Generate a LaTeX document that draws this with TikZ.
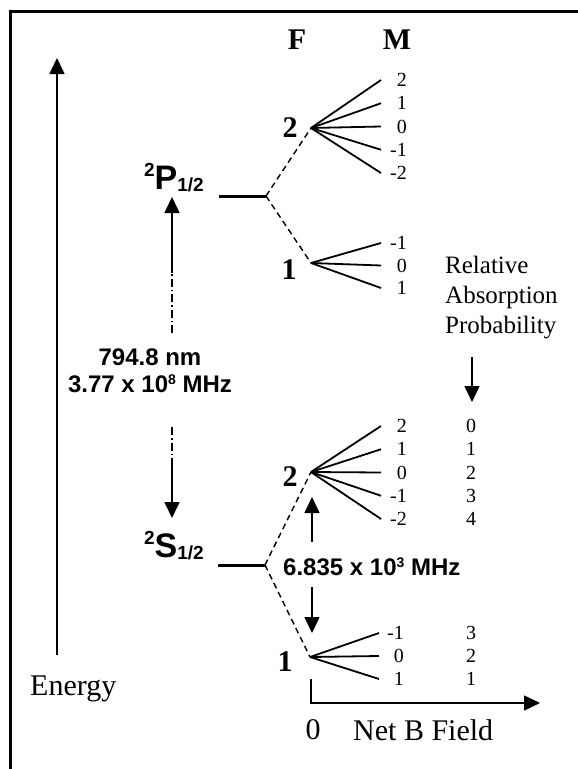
\documentclass[tikz,border=0pt]{standalone}
\usepackage{fontspec}
\setmainfont{Liberation Serif}
\newfontfamily\arialfont{Liberation Sans}
\usetikzlibrary{arrows.meta}

% term symbol with leading superscript 2 and subscript 1/2
\newcommand{\termsym}[1]{\raisebox{13pt}{\fontsize{19}{19}\selectfont 2}#1\raisebox{-2pt}{\fontsize{19}{19}\selectfont 1/2}}

\begin{document}
\begin{tikzpicture}[x=1pt, y=-1pt,
    level/.style={line width=3pt},
    split/.style={line width=1.4pt, dash pattern=on 6pt off 4pt},
    dashdot/.style={line width=1.3pt, dash pattern=on 8pt off 3pt on 1.5pt off 3pt},
    fan/.style={line width=1.8pt},
    arr/.style={line width=1.6pt, -{Triangle[width=15pt,length=16pt]}},
    mnum/.style={anchor=east, inner sep=0pt, font=\fontsize{20}{20}\selectfont},
    pnum/.style={inner sep=0pt, font=\fontsize{20}{20}\selectfont},
    fnum/.style={inner sep=0pt, font=\bfseries\fontsize{30}{30}\selectfont},
    big/.style={inner sep=0pt, font=\fontsize{30}{30}\selectfont},
    sansbold/.style={inner sep=0pt, font=\arialfont\bfseries\fontsize{24}{27}\selectfont}
  ]
    \useasboundingbox (0,0) rectangle (578,769);

    % Draw frame
    \draw[line width=3pt] (10,769) -- (10,11) -- (578,11);

    % Draw energy axis
    \coordinate (ebot) at (57,655);
    \coordinate (etop) at (57,58);
    \draw[arr] (ebot) -- (etop);
    \node[big, anchor=base west] (energy) at (30,695) {Energy};

    % Column headers
    \node[fnum] (fhead) at (297,40) {F};
    \node[fnum] (mhead) at (397,40) {M};

    % Fine structure levels
    \coordinate (pl) at (219,196);
    \coordinate (pr) at (266,196);
    \coordinate (sl) at (218,565);
    \coordinate (sr) at (265,565);
    \draw[level] (pl) -- (pr);
    \draw[level] (sl) -- (sr);
    \node[anchor=base east, inner sep=0pt, font=\arialfont\bfseries\fontsize{34}{34}\selectfont] (pterm) at (204,189) {\termsym{P}};
    \node[anchor=base east, inner sep=0pt, font=\arialfont\bfseries\fontsize{34}{34}\selectfont] (sterm) at (204,557) {\termsym{S}};

    % Hyperfine branch points
    \coordinate (p2) at (311,128);
    \coordinate (p1) at (311,263);
    \coordinate (s2) at (311,472);
    \coordinate (s1) at (310,657);
    \draw[split] (pr) -- (p2);
    \draw[split] (pr) -- (p1);
    \draw[split] (sr) -- (s2);
    \draw[split] (sr) -- (s1);
    \node[fnum] (pf2) at (290,128) {2};
    \node[fnum] (pf1) at (289,270) {1};
    \node[fnum] (sf2) at (290,477) {2};
    \node[fnum] (sf1) at (285,662) {1};

    % Zeeman fans of 2P1/2
    \foreach \m [count=\i] in {2,1,0,-1,-2} {
        \pgfmathsetmacro{\y}{80+23.25*(\i-1)}
        \coordinate (pa\i) at (381,\y);
        \draw[fan] (p2) -- (pa\i);
        \node[mnum] (pam\i) at (407,\y) {\m};
    }
    \foreach \m [count=\i] in {-1,0,1} {
        \pgfmathsetmacro{\y}{243+22.5*(\i-1)}
        \coordinate (pb\i) at (381,\y);
        \draw[fan] (p1) -- (pb\i);
        \node[mnum] (pbm\i) at (407,\y) {\m};
    }

    % Zeeman fans of 2S1/2 with relative absorption
    \foreach \m/\r [count=\i] in {2/0,1/1,0/2,-1/3,-2/4} {
        \pgfmathsetmacro{\y}{426+23.25*(\i-1)}
        \coordinate (sa\i) at (381,\y);
        \draw[fan] (s2) -- (sa\i);
        \node[mnum] (sam\i) at (407,\y) {\m};
        \node[pnum] (sar\i) at (471,\y) {\r};
    }
    \foreach \m/\r [count=\i] in {-1/3,0/2,1/1} {
        \pgfmathsetmacro{\y}{633+23*(\i-1)}
        \coordinate (sb\i) at (379,\y);
        \draw[fan] (s1) -- (sb\i);
        \node[mnum] (sbm\i) at (404,\y) {\m};
        \node[pnum] (sbr\i) at (471,\y) {\r};
    }

    % Optical transition
    \node[sansbold, align=center] (optic) at (150,371) {794.8 nm\\3.77 x 10\raisebox{8pt}{\fontsize{14}{14}\selectfont 8} MHz};
    \coordinate (ta) at (172,197);
    \coordinate (tb) at (172,273);
    \coordinate (tc) at (172,333);
    \coordinate (td) at (172,427);
    \coordinate (te) at (172,460);
    \coordinate (tf) at (172,518);
    \draw[arr] (tb) -- (ta);
    \draw[dashdot] (tc) -- (tb);
    \draw[dashdot] (td) -- (te);
    \draw[arr] (te) -- (tf);

    % Ground state hyperfine splitting
    \node[sansbold, anchor=west] (hfs) at (283,567) {6.835 x 10\raisebox{8pt}{\fontsize{14}{14}\selectfont 3} MHz};
    \coordinate (ha) at (312,542);
    \coordinate (hb) at (312,497);
    \coordinate (hc) at (312,587);
    \coordinate (hd) at (312,633);
    \draw[arr] (ha) -- (hb);
    \draw[arr] (hc) -- (hd);

    % Relative absorption probability
    \node[inner sep=0pt, anchor=north west, align=left, font=\fontsize{25}{30}\selectfont] (relabs) at (445,256) {Relative\\Absorption\\Probability};
    \coordinate (ra) at (472,357);
    \coordinate (rb) at (472,402);
    \draw[arr] (ra) -- (rb);

    % Net B field axis
    \coordinate (ba) at (311,679);
    \coordinate (bb) at (311,703);
    \coordinate (bc) at (540,703);
    \draw[arr] (ba) -- (bb) -- (bc);
    \node[big] (bzero) at (313,730) {0};
    \node[big, anchor=west] (bfield) at (353,730) {Net B Field};
\end{tikzpicture}
\end{document}
